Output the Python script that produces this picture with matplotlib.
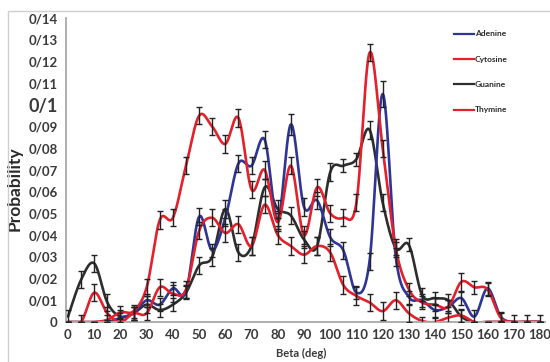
import numpy as np
import matplotlib
matplotlib.use("Agg")
import matplotlib.pyplot as plt
from matplotlib.patches import Rectangle
from matplotlib.lines import Line2D

# ---------------- data ----------------
beta = [0, 5, 10, 15, 20, 25, 30, 35, 40, 45, 50, 55, 60, 65, 70, 75, 80, 85, 90,
        95, 100, 105, 110, 115, 120, 125, 130, 135, 140, 145, 150, 155, 160, 165,
        170, 175, 180]

adenine = [0, 0, 0, 0, 0.002, 0.004, 0.010, 0.008, 0.0155, 0.014, 0.0485, 0.033,
           0.048, 0.073, 0.072, 0.084, 0.047, 0.091, 0.053, 0.056, 0.039, 0.033,
           0.0135, 0.028, 0.105, 0.030, 0.0115, 0.010, 0.0055, 0.007, 0.011, 0.0025,
           0.0155, 0.0025, 0, 0, 0]
adenine_err = [0, 0, 0, 0, 0.002, 0.003, 0.003, 0.003, 0.003, 0.003, 0.004, 0.003,
               0.004, 0.004, 0.004, 0.004, 0.004, 0.005, 0.004, 0.004, 0.004, 0.004,
               0.003, 0.004, 0.006, 0.004, 0.003, 0.003, 0.003, 0.003, 0.003, 0.003,
               0.003, 0.002, 0, 0, 0]

cytosine = [0, 0, 0, 0.001, 0.0045, 0.005, 0.016, 0.047, 0.048, 0.072, 0.095, 0.090,
            0.082, 0.094, 0.061, 0.070, 0.046, 0.072, 0.040, 0.062, 0.050, 0.048,
            0.055, 0.124, 0.080, 0.034, 0.015, 0.009, 0.008, 0.007, 0.0185, 0.016,
            0.015, 0.002, 0, 0, 0]
cytosine_err = [0, 0, 0, 0.002, 0.003, 0.003, 0.004, 0.004, 0.004, 0.004, 0.004, 0.004,
                0.004, 0.004, 0.004, 0.004, 0.004, 0.004, 0.004, 0.004, 0.004, 0.004,
                0.004, 0.004, 0.004, 0.004, 0.003, 0.003, 0.003, 0.003, 0.004, 0.003,
                0.003, 0.002, 0, 0, 0]

guanine = [0.0025, 0.0195, 0.027, 0.009, 0.0025, 0.004, 0.008, 0.0055, 0.008, 0.0135,
           0.026, 0.030, 0.052, 0.032, 0.035, 0.062, 0.052, 0.049, 0.038, 0.035,
           0.069, 0.072, 0.075, 0.0885, 0.055, 0.034, 0.0355, 0.0125, 0.011, 0.010,
           0.0025, 0, 0, 0, 0, 0, 0]
guanine_err = [0.003, 0.004, 0.004, 0.004, 0.003, 0.003, 0.004, 0.003, 0.003, 0.003,
               0.004, 0.004, 0.004, 0.004, 0.004, 0.004, 0.004, 0.004, 0.004, 0.004,
               0.004, 0.003, 0.003, 0.004, 0.004, 0.003, 0.003, 0.003, 0.003, 0.003,
               0.003, 0, 0, 0, 0.003, 0.003, 0.003]

thymine = [0, 0, 0.0135, 0.004, 0, 0.004, 0.004, 0.016, 0.013, 0.015, 0.042, 0.048,
           0.041, 0.045, 0.035, 0.054, 0.040, 0.035, 0.031, 0.035, 0.032, 0.017,
           0.012, 0.009, 0.005, 0.010, 0.004, 0.0005, 0, 0.002, 0.003, 0, 0, 0, 0, 0, 0]
thymine_err = [0, 0.003, 0.004, 0.003, 0.002, 0.003, 0.003, 0.004, 0.004, 0.004, 0.004,
               0.004, 0.004, 0.004, 0.004, 0.004, 0.004, 0.004, 0.004, 0.004, 0.004,
               0.004, 0.004, 0.004, 0.004, 0.004, 0.004, 0.002, 0.002, 0.003, 0.003,
               0, 0, 0, 0, 0, 0]

y_ticks = [0, 0.01, 0.02, 0.03, 0.04, 0.05, 0.06, 0.07, 0.08, 0.09, 0.10, 0.11,
           0.12, 0.13, 0.14]
y_labels = ["0", "0/01", "0/02", "0/03", "0/04", "0/05", "0/06", "0/07", "0/08",
            "0/09", "0/1", "0/11", "0/12", "0/13", "0/14"]
x_ticks = [0, 10, 20, 30, 40, 50, 60, 70, 80, 90, 100, 110, 120, 130, 140, 150,
           160, 170, 180]

series = [
    ("Guanine", guanine, guanine_err, "#2e2e2e"),
    ("Adenine", adenine, adenine_err, "#2f3596"),
    ("Thymine", thymine, thymine_err, "#e3202b"),
    ("Cytosine", cytosine, cytosine_err, "#e3202b"),
]
legend_order = ["Adenine", "Cytosine", "Guanine", "Thymine"]


def excel_smooth(x, y, n=24):
    """Bezier smoothing like a spreadsheet 'smoothed line' (Catmull-Rom)."""
    x = np.asarray(x, float)
    y = np.asarray(y, float)
    pts = np.column_stack([x, y])
    m = len(pts)
    out = []
    t = np.linspace(0, 1, n)[:, None]
    for i in range(m - 1):
        p0 = pts[i - 1] if i > 0 else pts[i]
        p1 = pts[i]
        p2 = pts[i + 1]
        p3 = pts[i + 2] if i + 2 < m else pts[i + 1]
        b1 = p1 + (p2 - p0) / 6.0
        b2 = p2 - (p3 - p1) / 6.0
        seg = ((1 - t) ** 3) * p1 + 3 * ((1 - t) ** 2) * t * b1 + 3 * (1 - t) * t ** 2 * b2 + t ** 3 * p2
        out.append(seg if i == 0 else seg[1:])
    c = np.vstack(out)
    return c[:, 0], c[:, 1]


plt.rcParams['font.family'] = ['Lato', 'DejaVu Sans']

W, H = 550, 362
fig = plt.figure(figsize=(W / 100, H / 100), dpi=100)
fig.patch.set_facecolor("white")

# outer light frame
fig.patches.append(Rectangle((8 / W, -0.1), 1.2, (H - 11) / H + 0.1,
                             transform=fig.transFigure, fill=False,
                             edgecolor="#cfcfcf", linewidth=1.0))

ax_left, ax_right = 66 / W, 545 / W
ax_bottom, ax_top = (H - 322) / H, (H - 18) / H
ax = fig.add_axes([ax_left, ax_bottom, ax_right - ax_left, ax_top - ax_bottom])
ax.set_facecolor("white")

px_per_deg = (540 - 68) / 180.0
ax.set_xlim(-(68 - 66) / px_per_deg, 180 + (545 - 540) / px_per_deg)
ax.set_ylim(0, 0.14)

handles = {}
for name, vals, err, col in series:
    sx, sy = excel_smooth(beta, vals)
    ln, = ax.plot(sx, sy, color=col, lw=1.9, solid_capstyle="round", zorder=2)
    handles[name] = Line2D([], [], color=col, lw=1.6)
for name, vals, err, col in series:
    ax.errorbar(beta, vals, yerr=err, fmt="none", ecolor="#222222",
                elinewidth=1.0, capsize=2.2, capthick=1.0, zorder=3)

for s in ["top", "right"]:
    ax.spines[s].set_visible(False)
for s in ["left", "bottom"]:
    ax.spines[s].set_color("#a8a8a8")
    ax.spines[s].set_linewidth(1.3)

ax.set_yticks(y_ticks)
ax.set_yticklabels(y_labels)
ax.set_xticks(x_ticks)
ax.set_xticklabels([str(v) for v in x_ticks])
ax.tick_params(axis="both", length=0, colors="#3a3a3a")
ax.tick_params(axis="y", pad=6)
ax.tick_params(axis="x", pad=5)
for lab in ax.get_yticklabels():
    lab.set_fontsize(9.5)
    lab.set_fontweight("bold")
    if lab.get_text() == "0/1":
        lab.set_fontsize(13)
for lab in ax.get_xticklabels():
    lab.set_fontsize(9.5)
    lab.set_fontweight("bold")

ax.set_ylabel("Probability", fontsize=12.5, fontweight="bold", color="#2a2a2a")
ax.yaxis.set_label_coords(-0.09, 0.44)
ax.set_xlabel("Beta (deg)", fontsize=8, fontweight="bold", color="#3a3a3a")
ax.xaxis.set_label_coords(0.49, -0.085)

leg = ax.legend([handles[n] for n in legend_order], legend_order,
                loc="upper left", bbox_to_anchor=(385 / (545 - 66), 0.97),
                frameon=False, fontsize=6, handlelength=2.3, handletextpad=0.15,
                labelspacing=2.2, borderaxespad=0)
for t in leg.get_texts():
    t.set_fontweight("bold")
    t.set_color("#2a2a2a")

fig.savefig("out.png", dpi=100, facecolor="white")
